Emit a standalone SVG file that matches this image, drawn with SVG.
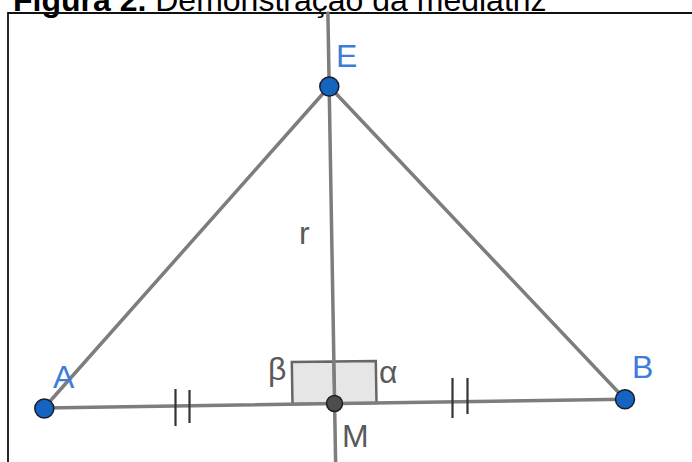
<svg xmlns="http://www.w3.org/2000/svg" width="692" height="462" viewBox="0 0 692 462">
<style>
.seg{stroke:#7d7d7d;stroke-width:3.5;fill:none;stroke-linecap:round}
.tick{stroke:#333;stroke-width:2.2}
.pt{fill:#1565c0;stroke:#1a1a2a;stroke-width:1.5}
.lbl{font-family:"Liberation Sans",Arial,sans-serif;font-size:32px;fill:#3b7dd8}
.glbl{font-family:"Liberation Sans",Arial,sans-serif;font-size:32px;fill:#5a5a5a}
.ang{fill:#e3e3e3;fill-opacity:0.9;stroke:#666;stroke-width:2.5}
</style>
<rect x="0" y="0" width="692" height="462" fill="#fff"/>
<text x="13" y="11" font-family="'Liberation Sans',Arial,sans-serif" font-size="32" fill="#000"><tspan font-weight="bold">Figura 2.</tspan> Demonstração da mediatriz</text>
<path d="M8 462V13H692" fill="none" stroke="#111" stroke-width="1.8"/>
<g id="angles">
<polygon class="ang" points="334.5,403.5 292.5,404.1 291.8,362.1 333.8,361.5"/>
<polygon class="ang" points="334.5,403.5 376.5,402.9 375.8,360.9 333.8,361.5"/>
</g>
<g id="connectors">
<line class="seg" x1="44" y1="408" x2="625" y2="399.3"/>
<line class="seg" x1="44" y1="408" x2="329.3" y2="86.5"/>
<line class="seg" x1="329.3" y1="86.5" x2="625" y2="399.3"/>
<line class="seg" x1="327.9" y1="13" x2="335.6" y2="462" stroke-linecap="butt"/>
<line class="tick" x1="175.5" y1="389" x2="175.5" y2="426"/>
<line class="tick" x1="189.5" y1="390" x2="189.5" y2="423"/>
<line class="tick" x1="452.5" y1="378" x2="452.5" y2="418"/>
<line class="tick" x1="467.5" y1="378" x2="467.5" y2="414"/>
</g>
<g id="line-r"><text class="glbl" x="299" y="244">r</text></g>
<g id="angle-beta"><text class="glbl" x="268" y="380" font-size="28">β</text></g>
<g id="angle-alpha"><text class="glbl" x="379" y="383" font-size="28">α</text></g>
<g id="point-E"><circle class="pt" cx="329.3" cy="86.5" r="9.5"/><text class="lbl" x="336" y="66.5">E</text></g>
<g id="point-A"><circle class="pt" cx="44.3" cy="408.5" r="9.5"/><text class="lbl" x="53" y="388">A</text></g>
<g id="point-B"><circle class="pt" cx="625" cy="399.2" r="9.5"/><text class="lbl" x="632" y="378">B</text></g>
<g id="point-M"><circle cx="334.5" cy="403.5" r="8" fill="#4d4d4d" stroke="#1e1e1e" stroke-width="1.5"/><text class="glbl" x="342" y="447">M</text></g>
</svg>
